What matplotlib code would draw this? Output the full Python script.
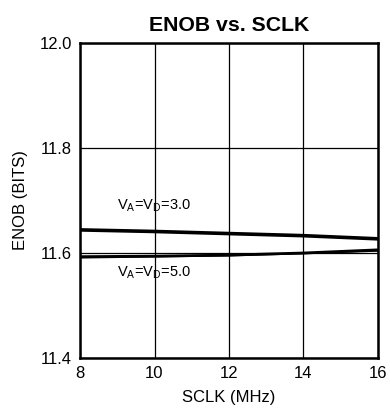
import matplotlib
matplotlib.use("Agg")
import matplotlib.pyplot as plt

plt.rcParams['font.family'] = ['Liberation Sans', 'DejaVu Sans']

# SCLK frequency (MHz)
sclk = [8, 10, 12, 14, 16]
# ENOB (bits) for each supply condition
enob_3v = [11.644, 11.641, 11.637, 11.633, 11.627]
enob_5v = [11.593, 11.594, 11.596, 11.600, 11.606]
enob_5v_b = [11.591, 11.593, 11.595, 11.599, 11.604]

xticks = [8, 10, 12, 14, 16]
yticks = [11.4, 11.6, 11.8, 12.0]
ytick_labels = ["11.4", "11.6", "11.8", "12.0"]

fig = plt.figure(figsize=(3.9, 4.11), dpi=100)
ax = fig.add_axes([80/390, 1 - 358/411, 298/390, 315/411])

ax.plot(sclk, enob_3v, color='black', lw=2.6, solid_capstyle='butt')
ax.plot(sclk, enob_5v, color='black', lw=2.0, solid_capstyle='butt')
ax.plot(sclk, enob_5v_b, color='black', lw=1.2, solid_capstyle='butt')

ax.set_xlim(8, 16)
ax.set_ylim(11.4, 12.0)
ax.set_xticks(xticks)
ax.set_yticks(yticks)
ax.set_yticklabels(ytick_labels)
ax.grid(True, color='black', lw=0.9)
ax.tick_params(length=0, labelsize=12, pad=6, colors='black')
for s in ax.spines.values():
    s.set_linewidth(1.8)

ax.text(9.0, 11.691, r"V$_\mathregular{A}$=V$_\mathregular{D}$=3.0", fontsize=10.5,
        va='center', ha='left')
ax.text(9.0, 11.562, r"V$_\mathregular{A}$=V$_\mathregular{D}$=5.0", fontsize=10.5,
        va='center', ha='left')

ax.set_title("ENOB vs. SCLK", fontsize=15.3, fontweight='bold', pad=9)
ax.set_xlabel("SCLK (MHz)", fontsize=12, labelpad=6)
ax.set_ylabel("ENOB (BITS)", fontsize=12, labelpad=8)

fig.savefig("out.png", dpi=100)
